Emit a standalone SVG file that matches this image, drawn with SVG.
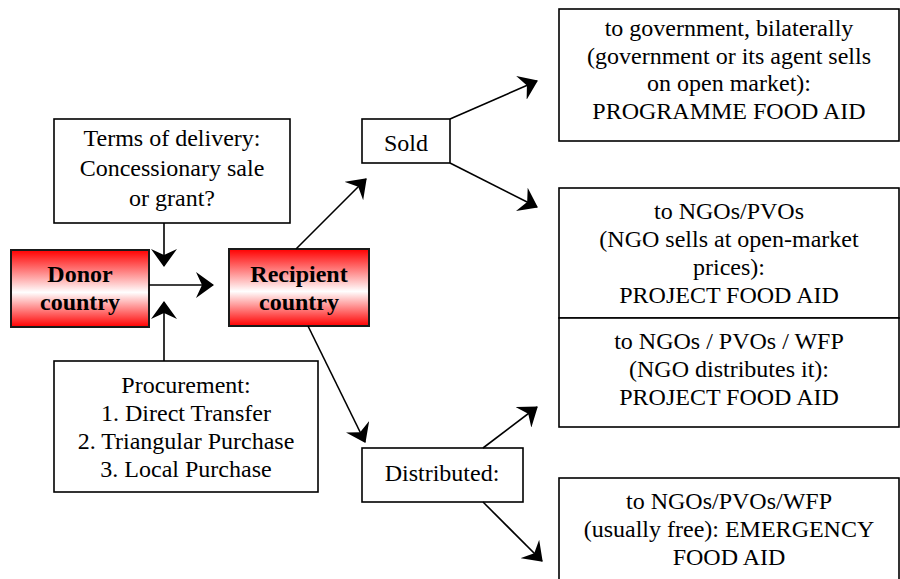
<svg xmlns="http://www.w3.org/2000/svg" width="900" height="579" viewBox="0 0 900 579">
<style>
.box{fill:#fff;stroke:#000;stroke-width:1.6}
.red{fill:url(#redGrad);stroke:#1a1a1a;stroke-width:2}
text{font-family:"Liberation Serif","Times New Roman",serif;font-size:24px;fill:#000;text-anchor:middle}
.b{font-weight:bold}
.con{stroke:#000;stroke-width:1.6;fill:none;marker-end:url(#ah)}
</style>
<defs>
<linearGradient id="redGrad" x1="0" y1="0" x2="0" y2="1">
<stop offset="0" stop-color="#ff0000"/>
<stop offset="0.55" stop-color="#ffffff"/>
<stop offset="1" stop-color="#ff0000"/>
</linearGradient>
<marker id="ah" viewBox="0 0 18 26" refX="17" refY="13" markerWidth="18" markerHeight="26" markerUnits="userSpaceOnUse" orient="auto">
<path d="M0,0 L18,13 L0,26 L6,13 Z" fill="#000"/>
</marker>
</defs>

<g id="terms">
<rect class="box" x="54" y="119" width="236" height="104"/>
<text x="172" y="146">Terms of delivery:</text>
<text x="172" y="176">Concessionary sale</text>
<text x="172" y="206">or grant?</text>
</g>
<g id="donor">
<rect class="red" x="11" y="250" width="138" height="77"/>
<text class="b" x="80" y="282">Donor</text>
<text class="b" x="80" y="310">country</text>
</g>
<g id="recipient">
<rect class="red" x="229" y="249" width="140" height="77"/>
<text class="b" x="299" y="282">Recipient</text>
<text class="b" x="299" y="310">country</text>
</g>
<g id="procurement">
<rect class="box" x="54" y="361" width="264" height="131"/>
<text x="186" y="393">Procurement:</text>
<text x="186" y="421">1. Direct Transfer</text>
<text x="186" y="449">2. Triangular Purchase</text>
<text x="186" y="477">3. Local Purchase</text>
</g>
<g id="sold">
<rect class="box" x="362" y="119" width="88" height="44"/>
<text x="406" y="151">Sold</text>
</g>
<g id="distributed">
<rect class="box" x="362" y="448" width="161" height="54"/>
<text x="442" y="481">Distributed:</text>
</g>
<g id="programme">
<rect class="box" x="559" y="9" width="340" height="132"/>
<text x="729" y="36">to government, bilaterally</text>
<text x="729" y="64">(government or its agent sells</text>
<text x="729" y="91">on open market):</text>
<text x="729" y="119">PROGRAMME FOOD AID</text>
</g>
<g id="project-sold">
<rect class="box" x="559" y="188" width="340" height="130"/>
<text x="729" y="219">to NGOs/PVOs</text>
<text x="729" y="247">(NGO sells at open-market</text>
<text x="729" y="275">prices):</text>
<text x="729" y="303">PROJECT FOOD AID</text>
</g>
<g id="project-distributed">
<rect class="box" x="559" y="318" width="340" height="109"/>
<text x="729" y="349">to NGOs / PVOs / WFP</text>
<text x="729" y="377">(NGO distributes it):</text>
<text x="729" y="405">PROJECT FOOD AID</text>
</g>
<g id="emergency">
<rect class="box" x="559" y="478" width="340" height="120"/>
<text x="729" y="509">to NGOs/PVOs/WFP</text>
<text x="729" y="537">(usually free): EMERGENCY</text>
<text x="729" y="565">FOOD AID</text>
</g>

<g id="connectors">
<path class="con" d="M164,223 L164,266"/>
<path class="con" d="M164,361 L164,302"/>
<path class="con" d="M149,285 L213,285"/>
<path class="con" d="M296,249 L366,179"/>
<path class="con" d="M450,119 L537,81"/>
<path class="con" d="M450,163 L537,207"/>
<path class="con" d="M308,326 L365,442"/>
<path class="con" d="M483,448 L537,407"/>
<path class="con" d="M483,502 L542,561"/>
</g>
</svg>
